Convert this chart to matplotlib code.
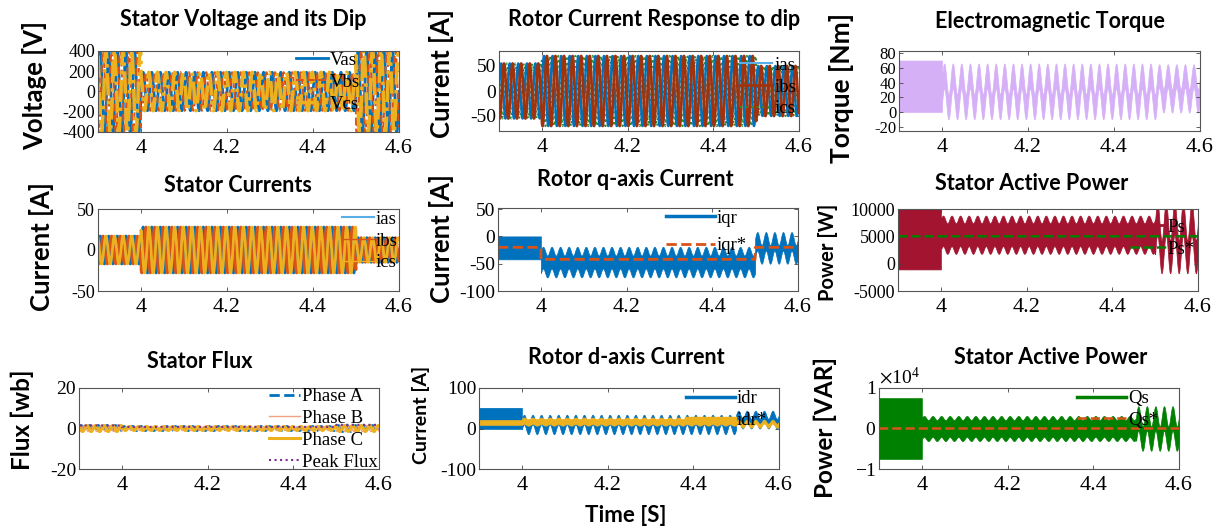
import numpy as np
import matplotlib.pyplot as plt
from matplotlib.lines import Line2D
from matplotlib.ticker import ScalarFormatter

plt.rcParams['font.family'] = ['Liberation Serif', 'DejaVu Serif']
plt.rcParams['mathtext.fontset'] = 'stix'
plt.rcParams['axes.unicode_minus'] = False

W, H = 1219, 529
SANS = ['Lato', 'DejaVu Sans']

# segments: before dip / during dip / after dip
t_breaks = [3.9, 4.0, 4.5, 4.6]
f_grid = 50.0

# three-phase amplitudes per segment
vs_amp = [410, 190, 410]
ir_amp = [55, 70, 50]
is_amp = [17, 28, 15]
flux_amp = [1.5, 1.0, 1.5]
flux_peak = [1.5, 0.8, 1.8]

# banded signals: centre, 50 Hz swing, switching ripple half-width
te_mid, te_amp, te_rip = [35, 28, 32], [0, 21, 17], [35, 17, 16]
iqr_mid, iqr_amp, iqr_rip = [-21, -47, -21], [0, 8, 12], [21, 20, 17]
iqr_ref = [-20, -42, -20]
ps_mid, ps_amp, ps_rip = [4750, 5300, 4750], [0, 700, 3500], [5800, 2800, 3000]
ps_ref = [5000, 5000, 5000]
idr_mid, idr_amp, idr_rip = [25, 10, 22], [0, 12, 10], [26, 12, 12]
idrr_mid, idrr_amp, idrr_rip = [15, 17, 12], [0, 2, 5], [6, 8, 5]
qs_mid, qs_amp, qs_rip = [0, 0, 0], [0, 500, 2500], [7500, 2600, 3000]
qs_ref = [0, 0, 0]

xticks = [4, 4.2, 4.4, 4.6]
xticklabels = ['4', '4.2', '4.4', '4.6']

t = np.linspace(t_breaks[0], t_breaks[-1], 14001)
idx = np.searchsorted(t_breaks[1:-1], t, side='right')
wt = 2 * np.pi * f_grid * t


def seg(v):
    return np.asarray(v, dtype=float)[idx]


def phase(amp, shift=0.0):
    return seg(amp) * np.sin(wt + shift)


def band(mid, amp, rip):
    c = seg(mid) + seg(amp) * np.sin(wt)
    return c - seg(rip), c + seg(rip)


fig = plt.figure(figsize=(W / 100, H / 100), dpi=100)


def make_ax(l, tp, r, b, ylim, yticks, ysize):
    ax = fig.add_axes([l / W, 1 - b / H, (r - l) / W, (b - tp) / H])
    ax.set_xlim(3.9, 4.6)
    ax.set_ylim(*ylim)
    ax.set_xticks(xticks)
    ax.set_xticklabels(xticklabels)
    ax.set_yticks(yticks)
    ax.tick_params(direction='in', top=True, right=True, length=3, width=0.6,
                   color='#444444')
    ax.tick_params(axis='x', labelsize=16, pad=5)
    ax.tick_params(axis='y', labelsize=ysize, pad=2)
    for s in ax.spines.values():
        s.set_color('#555555')
        s.set_linewidth(0.8)
    return ax


def ftext(x, y, s, size, rot=0):
    fig.text(x / W, 1 - y / H, s, ha='center', va='center', rotation=rot,
             fontsize=size, fontweight='bold', family=SANS)


def leg(ax, handles, labels, x, y, spacing=0.25, hl=1.7):
    ax.legend(handles, labels, loc='upper right', bbox_to_anchor=(x, y),
              frameon=False, fontsize=13.5, labelspacing=spacing,
              handlelength=hl, handletextpad=0.1, borderaxespad=0, borderpad=0)


def ln(color, lw=2, ls='-'):
    return Line2D([], [], color=color, lw=lw, ls=ls)


p3 = 2 * np.pi / 3
TS = 15.5

# Stator voltage
ax = make_ax(98, 51, 399, 132, (-400, 400), [-400, -200, 0, 200, 400], 13)
a = ax.plot(t, phase(vs_amp), color='#0072BD', lw=2)[0]
b = ax.plot(t, phase(vs_amp, -p3), color='#D95319', lw=1.5, ls='--')[0]
c = ax.plot(t, phase(vs_amp, p3), color='#EDB120', lw=2.5, ls='-.')[0]
leg(ax, [a, b, c], ['Vas', 'Vbs', 'Vcs'], 0.87, 0.99)
ftext(243, 19, 'Stator Voltage and its Dip', TS)
ftext(35, 86, 'Voltage [V]', 18.5, 90)

# Rotor currents
ax = make_ax(499, 51, 799, 131, (-80, 80), [-50, 0, 50], 14)
c = ax.plot(t, phase(ir_amp, p3), color='#2E8B2E', lw=1.5, ls=':', zorder=1)[0]
a = ax.plot(t, phase(ir_amp), color='#0072BD', lw=1.8, zorder=2)[0]
b = ax.plot(t, phase(ir_amp, -p3), color='#A0320C', lw=2, zorder=3)[0]
leg(ax, [ln('#5AAEE6', 1.5), b, c], ['ias', 'ibs', 'ics'], 0.99, 0.93)
ftext(654, 19, 'Rotor Current Response to dip', TS)
ftext(442, 74, 'Current [A]', 18.5, 90)

# Torque
ax = make_ax(899, 51, 1200, 131, (-26, 83), [-20, 0, 20, 40, 60, 80], 12)
lo, hi = band(te_mid, te_amp, te_rip)
ax.fill_between(t, lo, hi, color='#D6B0F7', lw=0.5, edgecolor='#D6B0F7')
ftext(1050, 22, 'Electromagnetic Torque', TS)
ftext(841, 88, 'Torque [Nm]', 19, 90)

# Stator currents
ax = make_ax(98, 209, 399, 291, (-50, 50), [-50, 0, 50], 13)
a = ax.plot(t, phase(is_amp), color='#0072BD', lw=2)[0]
b = ax.plot(t, phase(is_amp, -p3), color='#D95319', lw=2)[0]
c = ax.plot(t, phase(is_amp, p3), color='#EDB120', lw=2)[0]
leg(ax, [ln('#5AAEE6', 1.5), ln('#D95319', 1), ln('#EDB120', 1)],
    ['ias', 'ibs', 'ics'], 0.995, 0.98)
ftext(238, 186, 'Stator Currents', TS)
ftext(42, 247, 'Current [A]', 18.5, 90)

# Rotor q-axis current
ax = make_ax(498, 208, 798, 291, (-100, 52), [-100, -50, 0, 50], 14)
lo, hi = band(iqr_mid, iqr_amp, iqr_rip)
ax.fill_between(t, lo, hi, color='#0072BD', lw=0.5, edgecolor='#0072BD')
r = ax.plot(t, seg(iqr_ref), color='#D95319', lw=2, ls='--')[0]
leg(ax, [ln('#0072BD', 2.5), r], ['iqr', 'iqr*'], 0.83, 0.98, spacing=0.55, hl=2.6)
ftext(635, 179, 'Rotor q-axis Current', TS)
ftext(442, 239, 'Current [A]', 18.5, 90)

# Stator active power
ax = make_ax(898, 209, 1198, 291, (-5000, 10000), [-5000, 0, 5000, 10000], 13)
lo, hi = band(ps_mid, ps_amp, ps_rip)
ax.fill_between(t, lo, hi, color='#A2142F', lw=0.5, edgecolor='#A2142F')
r = ax.plot(t, seg(ps_ref), color='#008000', lw=1.8, ls='--')[0]
leg(ax, [ln('#A2142F', 2), r], ['Ps', 'Ps*'], 0.99, 0.88, hl=1.9)
ftext(1032, 184, 'Stator Active Power', TS)
ftext(828, 252, 'Power [W]', 14.5, 90)

# Stator flux
ax = make_ax(79, 388, 379, 469, (-20, 20), [-20, 0, 20], 14)
a = ax.plot(t, phase(flux_amp), color='#0072BD', lw=2, ls='--')[0]
b = ax.plot(t, phase(flux_amp, -p3), color='#F2A184', lw=1)[0]
c = ax.plot(t, phase(flux_amp, p3), color='#EDB120', lw=2.2)[0]
d = ax.plot(t, seg(flux_peak), color='#7E2F8E', lw=1.5, ls=':')[0]
leg(ax, [a, b, c, d], ['Phase A', 'Phase B', 'Phase C', 'Peak Flux'], 0.997, 1.0)
ftext(200, 361, 'Stator Flux', TS)
ftext(22, 420, 'Flux [wb]', 17.5, 90)

# Rotor d-axis current
ax = make_ax(479, 388, 779, 469, (-100, 100), [-100, 0, 100], 14)
lo, hi = band(idr_mid, idr_amp, idr_rip)
ax.fill_between(t, lo, hi, color='#0072BD', lw=0.5, edgecolor='#0072BD')
lo, hi = band(idrr_mid, idrr_amp, idrr_rip)
ax.fill_between(t, lo, hi, color='#EDB120', lw=0.5, edgecolor='#EDB120')
leg(ax, [ln('#0072BD', 2.5), ln('#EDB120', 2.5)], ['idr', 'idr*'], 0.96, 0.975, hl=2.6)
ftext(626, 357, 'Rotor d-axis Current', TS)
ftext(421, 415, 'Current [A]', 14, 90)
ftext(626, 515, 'Time [S]', 16)

# Stator reactive power
ax = make_ax(879, 388, 1179, 469, (-1e4, 1e4), [-1e4, 0, 1e4], 14)
fmt = ScalarFormatter(useMathText=True)
fmt.set_powerlimits((0, 0))
ax.yaxis.set_major_formatter(fmt)
ax.yaxis.get_offset_text().set_fontsize(14)
lo, hi = band(qs_mid, qs_amp, qs_rip)
ax.fill_between(t, lo, hi, color='#008000', lw=0.5, edgecolor='#008000')
r = ax.plot(t, seg(qs_ref), color='#D95319', lw=1.8, ls='--')[0]
leg(ax, [ln('#008000', 2.5), r], ['Qs', 'Qs*'], 0.93, 0.975, hl=2.6)
ftext(1051, 357, 'Stator Active Power', TS)
ftext(825, 428, 'Power [VAR]', 17.5, 90)

fig.savefig('out.png', dpi=100)
